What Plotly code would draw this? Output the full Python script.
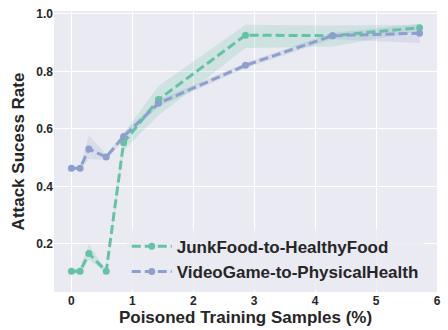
import plotly.graph_objects as go

x = [0, 0.143, 0.286, 0.571, 0.857, 1.429, 2.857, 4.286, 5.714]
junk_mean = [0.105, 0.105, 0.167, 0.105, 0.552, 0.702, 0.926, 0.924, 0.952]
junk_lo = [0.098, 0.092, 0.146, 0.100, 0.525, 0.647, 0.881, 0.887, 0.940]
junk_hi = [0.112, 0.118, 0.199, 0.110, 0.585, 0.749, 0.962, 0.960, 0.962]
video_mean = [0.463, 0.463, 0.530, 0.502, 0.574, 0.689, 0.821, 0.924, 0.933]
video_lo = [0.458, 0.458, 0.495, 0.492, 0.562, 0.677, 0.812, 0.912, 0.899]
video_hi = [0.468, 0.468, 0.577, 0.512, 0.586, 0.701, 0.830, 0.934, 0.966]

names = ["JunkFood-to-HealthyFood", "VideoGame-to-PhysicalHealth"]
colors = ["#66c2a5", "#8da0cb"]
fills = ["rgba(102,194,165,0.2)", "rgba(141,160,203,0.2)"]
xticks = [0, 1, 2, 3, 4, 5, 6]
yticks = [0.2, 0.4, 0.6, 0.8, 1.0]

fig = go.Figure()
for col, fc, lo, hi in [
    (colors[0], fills[0], junk_lo, junk_hi),
    (colors[1], fills[1], video_lo, video_hi),
]:
    fig.add_trace(go.Scatter(x=x + x[::-1], y=hi + lo[::-1], fill="toself",
                             fillcolor=fc, line=dict(width=0), mode="lines",
                             hoverinfo="skip", showlegend=False))
for name, col, m in [(names[0], colors[0], junk_mean), (names[1], colors[1], video_mean)]:
    fig.add_trace(go.Scatter(x=x, y=m, name="<b>" + name + "</b>", mode="lines+markers",
                             line=dict(color=col, width=3, dash="9px,4px"),
                             marker=dict(color=col, size=7)))

fig.update_layout(
    width=448, height=330,
    margin=dict(l=54, r=7, t=8, b=33),
    plot_bgcolor="#EAEAF2", paper_bgcolor="white",
    font=dict(family="Liberation Sans, Arial, sans-serif", color="#262626"),
    showlegend=True,
    legend=dict(x=0.19, y=0.225, xanchor="left", yanchor="top",
                bgcolor="rgba(234,234,242,0.8)",
                font=dict(size=17, color="#262626"),
                itemwidth=40, tracegroupgap=0),
)
fig.update_xaxes(range=[-0.2857, 6.0], tickvals=xticks,
                 ticktext=["<b>%d</b>" % v for v in xticks],
                 showgrid=True, gridcolor="white", gridwidth=1, zeroline=False,
                 showline=False, ticks="", tickfont=dict(size=12),
                 title=dict(text="<b>Poisoned Training Samples (%)</b>",
                            font=dict(size=17), standoff=3))
fig.update_yaxes(range=[0.033, 1.01], tickvals=yticks,
                 ticktext=["<b>%.1f</b>" % v for v in yticks],
                 showgrid=True, gridcolor="white", gridwidth=1, zeroline=False,
                 showline=False, ticks="", tickfont=dict(size=12),
                 title=dict(text="<b>Attack Sucess Rate</b>",
                            font=dict(size=17), standoff=7))

fig.write_html("out.html")
